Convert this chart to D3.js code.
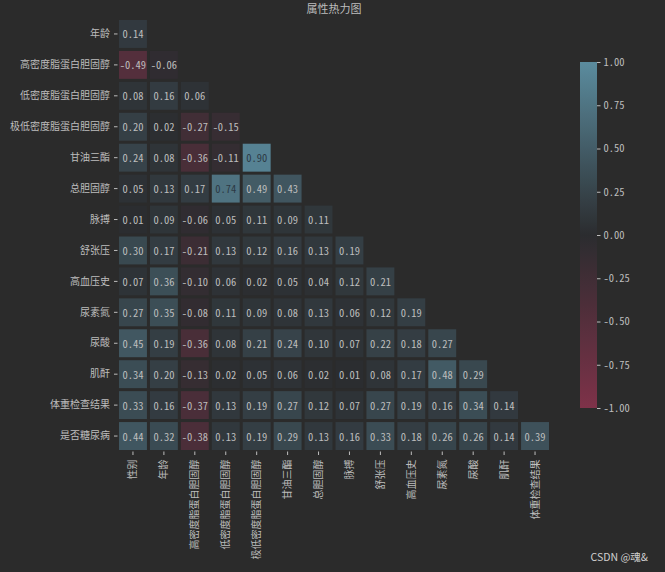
<!DOCTYPE html>
<html><head><meta charset="utf-8">
<script src="https://cdn.jsdelivr.net/npm/d3@7"></script>
<style>
html,body{margin:0;padding:0;background:#2b2b2b;}
svg{display:block;}
</style></head>
<body>
<svg id="chart" width="665" height="572"></svg>
<script>
const title = "属性热力图";
const rowLabels = ["年龄","高密度脂蛋白胆固醇","低密度脂蛋白胆固醇","极低密度脂蛋白胆固醇","甘油三酯","总胆固醇","脉搏","舒张压","高血压史","尿素氮","尿酸","肌酐","体重检查结果","是否糖尿病"];
const colLabels = ["性别","年龄","高密度脂蛋白胆固醇","低密度脂蛋白胆固醇","极低密度脂蛋白胆固醇","甘油三酯","总胆固醇","脉搏","舒张压","高血压史","尿素氮","尿酸","肌酐","体重检查结果"];
const row_年龄 = [0.14];
const row_高密度 = [-0.49,-0.06];
const row_低密度 = [0.08,0.16,0.06];
const row_极低密度 = [0.20,0.02,-0.27,-0.15];
const row_甘油三酯 = [0.24,0.08,-0.36,-0.11,0.90];
const row_总胆固醇 = [0.05,0.13,0.17,0.74,0.49,0.43];
const row_脉搏 = [0.01,0.09,-0.06,0.05,0.11,0.09,0.11];
const row_舒张压 = [0.30,0.17,-0.21,0.13,0.12,0.16,0.13,0.19];
const row_高血压史 = [0.07,0.36,-0.10,0.06,0.02,0.05,0.04,0.12,0.21];
const row_尿素氮 = [0.27,0.35,-0.08,0.11,0.09,0.08,0.13,0.06,0.12,0.19];
const row_尿酸 = [0.45,0.19,-0.36,0.08,0.21,0.24,0.10,0.07,0.22,0.18,0.27];
const row_肌酐 = [0.34,0.20,-0.13,0.02,0.05,0.06,0.02,0.01,0.08,0.17,0.48,0.29];
const row_体重 = [0.33,0.16,-0.37,0.13,0.19,0.27,0.12,0.07,0.27,0.19,0.16,0.34,0.14];
const row_糖尿病 = [0.44,0.32,-0.38,0.13,0.19,0.29,0.13,0.16,0.33,0.18,0.26,0.26,0.14,0.39];
const rows = [row_年龄,row_高密度,row_低密度,row_极低密度,row_甘油三酯,row_总胆固醇,row_脉搏,row_舒张压,row_高血压史,row_尿素氮,row_尿酸,row_肌酐,row_体重,row_糖尿病];
const cbTicks = [-1,-0.75,-0.5,-0.25,0,0.25,0.5,0.75,1];

const cells = [];
rows.forEach((r,i)=>r.forEach((v,j)=>cells.push({row:rowLabels[i], col:colLabels[j], v})));

const svg = d3.select("#chart");
const textCol = "#bdbdbd";
const cjk = "'Noto Sans CJK SC','Noto Sans',sans-serif";
const mono = "'Noto Sans Mono CJK SC','Noto Sans CJK SC',monospace";

const x = d3.scaleBand().domain(colLabels).range([117.5, 550.5]);
const y = d3.scaleBand().domain(rowLabels).range([18.5, 451.5]);
const color = d3.scaleLinear().domain([-1,0,1]).range(["#7e3249","#2b2c2f","#5b8c9e"]).clamp(true);

const gap = 1.5;
const g = svg.append("g");
g.selectAll("rect.cell").data(cells).join("rect")
  .attr("class","cell")
  .attr("x",d=>x(d.col)+gap).attr("y",d=>y(d.row)+gap)
  .attr("width",x.bandwidth()-2*gap).attr("height",y.bandwidth()-2*gap)
  .attr("fill",d=>color(d.v));

const fmt = d3.format(".2f");
g.selectAll("text.ann").data(cells).join("text")
  .attr("class","ann")
  .attr("x",d=>x(d.col)+x.bandwidth()/2).attr("y",d=>y(d.row)+y.bandwidth()/2)
  .attr("text-anchor","middle").attr("dominant-baseline","central")
  .attr("font-family",mono).attr("font-size",10.5)
  .attr("fill",d=>d3.lab(color(d.v)).l>42 ? "#2c3944" : textCol)
  .text(d=>fmt(d.v).replace("−","-"));

// Y axis
const yAxis = d3.axisLeft(y).tickSize(3.5).tickPadding(4);
const ya = svg.append("g").attr("transform","translate(117.5,0)").call(yAxis);
ya.select(".domain").remove();
ya.selectAll("line").attr("stroke",textCol);
ya.selectAll("text").attr("fill",textCol).attr("font-family",cjk).attr("font-size",10);

// X axis
const xAxis = d3.axisBottom(x).tickSize(3.5).tickPadding(4);
const xa = svg.append("g").attr("transform","translate(0,451.5)").call(xAxis);
xa.select(".domain").remove();
xa.selectAll("line").attr("stroke",textCol);
xa.selectAll("text").attr("fill",textCol).attr("font-family",cjk).attr("font-size",10)
  .attr("text-anchor","end").attr("dy","0.35em")
  .attr("transform","translate(0,8) rotate(-90)").attr("x",0).attr("y",0);

// Title
svg.append("text").attr("x",(117.5+550.5)/2).attr("y",13)
  .attr("text-anchor","middle").attr("fill",textCol)
  .attr("font-family",cjk).attr("font-size",11).text(title);

// Colorbar
const cbX = 580, cbW = 17, cbTop = 62, cbBot = 408;
const cy = d3.scaleLinear().domain([-1,1]).range([cbBot, cbTop]);
const defs = svg.append("defs");
const grad = defs.append("linearGradient").attr("id","cbgrad")
  .attr("x1",0).attr("y1",1).attr("x2",0).attr("y2",0);
d3.range(0,1.0001,0.05).forEach(t=>{
  grad.append("stop").attr("offset",t).attr("stop-color",color(-1+2*t));
});
svg.append("rect").attr("x",cbX).attr("y",cbTop).attr("width",cbW).attr("height",cbBot-cbTop)
  .attr("fill","url(#cbgrad)");
const cbAxis = d3.axisRight(cy).tickValues(cbTicks).tickSize(3.5).tickPadding(3)
  .tickFormat(d=>fmt(d).replace("−","-"));
const ca = svg.append("g").attr("transform",`translate(${cbX+cbW},0)`).call(cbAxis);
ca.select(".domain").remove();
ca.selectAll("line").attr("stroke",textCol);
ca.selectAll("text").attr("fill",textCol).attr("font-family",mono).attr("font-size",10.5);

// Watermark
svg.append("text").attr("x",648).attr("y",561).attr("text-anchor","end")
  .attr("fill","#d0d0d0").attr("font-family","'Noto Sans CJK SC',sans-serif").attr("font-size",10.5)
  .text("CSDN @魂&");
</script>
</body></html>
